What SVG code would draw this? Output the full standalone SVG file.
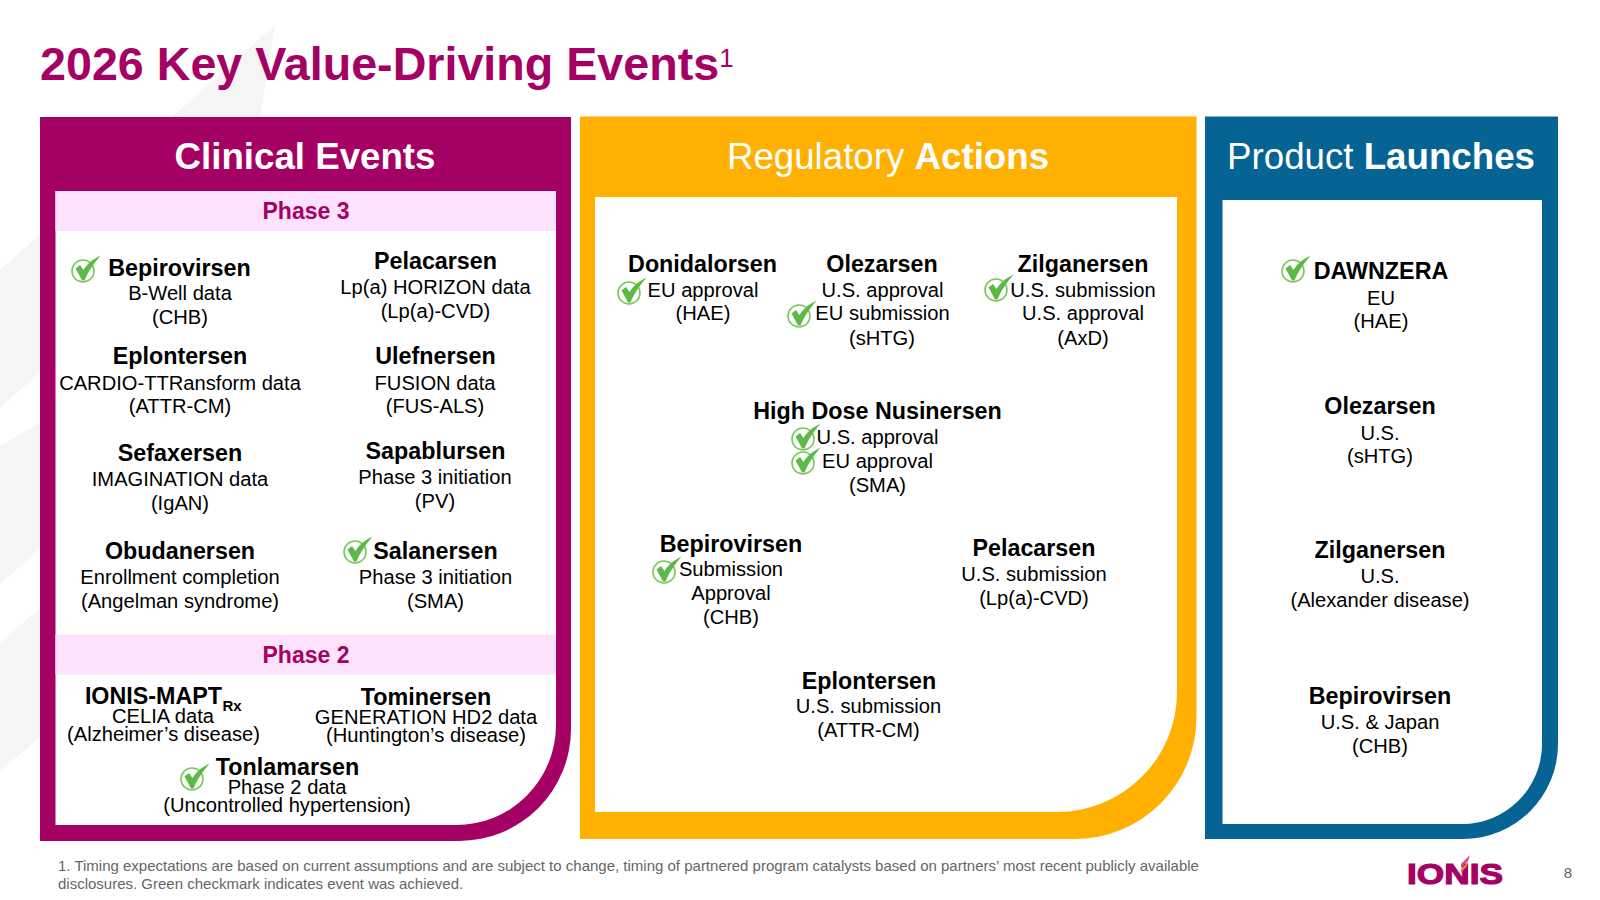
<svg xmlns="http://www.w3.org/2000/svg" width="1600" height="900" viewBox="0 0 1600 900">
<style>
text{font-family:"Liberation Sans",Arial,sans-serif;text-anchor:middle;fill:#000}
.n{font-size:23.3px;font-weight:700}
.b{font-size:20.15px}
.h{font-size:36.7px;fill:#fff}
.hb{font-weight:700}
.p{font-size:23px;font-weight:700;fill:#A50064}
.f{font-size:15px;fill:#666;text-anchor:start}
</style>
<defs>
<g id="chk">
<circle cx="0" cy="0" r="11" fill="none" stroke="#78C85A" stroke-width="1.6"/>
<path d="M-7.500,-2.500 L-3,-6 L0.500,-1 C4,-7 10,-12 17.500,-15.500 C11,-8 5,1 1.500,9.500 L-1,9.500 Z" fill="#5DB947"/>
</g>
</defs>
<rect width="1600" height="900" fill="#fff"/>
<g id="watermark" fill="#F5F5F5">
<polygon points="275,25 172,117 260,117"/>
<polygon points="0,270 40,235 40,373 0,407"/>
<polygon points="0,446 40,423 40,549 0,584"/>
<polygon points="0,643 40,608 40,737 0,771"/>
</g>
<g id="title">
<text x="40" y="80" style="text-anchor:start;font-size:46.65px;font-weight:700;fill:#A50064">2026 Key Value-Driving Events<tspan dy="-13" style="font-size:26px;font-weight:400">1</tspan></text>
</g>
<g id="clinical-panel">
<path d="M40,117 H571 V729 A112,112 0 0 1 459,841 H40 Z" fill="#A50064"/>
<path d="M55.500,191 H556 V725 A100,100 0 0 1 456,825 H55.500 Z" fill="#fff"/>
<rect x="55.500" y="191" width="500.500" height="40" fill="#FDE2FD"/>
<rect x="55.500" y="634.500" width="500.500" height="40" fill="#FDE2FD"/>
<text x="305" y="169" class="h hb">Clinical Events</text>
<text x="306" y="219" class="p">Phase 3</text>
<text x="306" y="663" class="p">Phase 2</text>
</g>
<g id="regulatory-panel">
<path d="M580,116.500 H1196.500 V717 A122,122 0 0 1 1074.500,839 H580 Z" fill="#FFB000"/>
<path d="M595,197 H1177 V692 A120,120 0 0 1 1057,812 H595 Z" fill="#fff"/>
<text x="888" y="169" class="h">Regulatory <tspan class="hb">Actions</tspan></text>
</g>
<g id="product-panel">
<path d="M1205,116.500 H1558 V744 A95,95 0 0 1 1463,839 H1205 Z" fill="#066494"/>
<path d="M1222.500,200 H1542 V744 A80,80 0 0 1 1462,824 H1222.500 Z" fill="#fff"/>
<text x="1381" y="169" class="h">Product <tspan class="hb">Launches</tspan></text>
</g>
<g id="n-bepirovirsen-c"><text x="179.500" y="275.500" class="n">Bepirovirsen</text><text x="180" y="300" class="b">B-Well data</text><text x="180" y="324" class="b">(CHB)</text><use href="#chk" x="83" y="271"/></g>
<g id="n-pelacarsen-c"><text x="435.500" y="269" class="n">Pelacarsen</text><text x="435.500" y="294" class="b">Lp(a) HORIZON data</text><text x="435.500" y="318" class="b">(Lp(a)-CVD)</text></g>
<g id="n-eplontersen-c"><text x="180" y="364" class="n">Eplontersen</text><text x="180" y="390" class="b">CARDIO-TTRansform data</text><text x="180" y="413" class="b">(ATTR-CM)</text></g>
<g id="n-ulefnersen"><text x="435.500" y="364" class="n">Ulefnersen</text><text x="435" y="390" class="b">FUSION data</text><text x="435" y="413" class="b">(FUS-ALS)</text></g>
<g id="n-sefaxersen"><text x="180" y="461" class="n">Sefaxersen</text><text x="180" y="486" class="b">IMAGINATION data</text><text x="180" y="510" class="b">(IgAN)</text></g>
<g id="n-sapablursen"><text x="435.500" y="459" class="n">Sapablursen</text><text x="435" y="484" class="b">Phase 3 initiation</text><text x="435" y="508" class="b">(PV)</text></g>
<g id="n-obudanersen"><text x="180" y="559" class="n">Obudanersen</text><text x="180" y="584" class="b">Enrollment completion</text><text x="180" y="608" class="b">(Angelman syndrome)</text></g>
<g id="n-salanersen"><text x="435.500" y="559" class="n">Salanersen</text><text x="435.500" y="584" class="b">Phase 3 initiation</text><text x="435.500" y="608" class="b">(SMA)</text><use href="#chk" x="355" y="552"/></g>
<g id="n-ionis-mapt"><text x="153.500" y="704" class="n">IONIS-MAPT</text><text x="232" y="711" style="font-size:15px;font-weight:700">Rx</text><text x="163" y="723" class="b">CELIA data</text><text x="163.500" y="741" class="b">(Alzheimer’s disease)</text></g>
<g id="n-tominersen"><text x="426" y="705" class="n">Tominersen</text><text x="426" y="724" class="b">GENERATION HD2 data</text><text x="426" y="742" class="b">(Huntington’s disease)</text></g>
<g id="n-tonlamarsen"><text x="287.500" y="775" class="n">Tonlamarsen</text><text x="287" y="794" class="b">Phase 2 data</text><text x="287" y="812" class="b">(Uncontrolled hypertension)</text><use href="#chk" x="192" y="779"/></g>
<g id="n-donidalorsen"><text x="702.500" y="272" class="n">Donidalorsen</text><text x="703" y="297" class="b">EU approval</text><text x="703" y="320" class="b">(HAE)</text><use href="#chk" x="629" y="293"/></g>
<g id="n-olezarsen-r"><text x="882" y="272" class="n">Olezarsen</text><text x="882.500" y="297" class="b">U.S. approval</text><text x="882.500" y="320" class="b">EU submission</text><text x="882" y="345" class="b">(sHTG)</text><use href="#chk" x="799" y="316"/></g>
<g id="n-zilganersen-r"><text x="1083" y="272" class="n">Zilganersen</text><text x="1083" y="297" class="b">U.S. submission</text><text x="1083" y="320" class="b">U.S. approval</text><text x="1083" y="345" class="b">(AxD)</text><use href="#chk" x="996" y="290"/></g>
<g id="n-nusinersen"><text x="877.500" y="419" class="n">High Dose Nusinersen</text><text x="877.500" y="444" class="b">U.S. approval</text><text x="877.500" y="468" class="b">EU approval</text><text x="877.500" y="492" class="b">(SMA)</text><use href="#chk" x="803" y="439"/><use href="#chk" x="803" y="463"/></g>
<g id="n-bepirovirsen-r"><text x="731" y="551.500" class="n">Bepirovirsen</text><text x="731" y="576" class="b">Submission</text><text x="731" y="600" class="b">Approval</text><text x="731" y="624" class="b">(CHB)</text><use href="#chk" x="664" y="572"/></g>
<g id="n-pelacarsen-r"><text x="1034" y="555.500" class="n">Pelacarsen</text><text x="1034" y="581" class="b">U.S. submission</text><text x="1034" y="605" class="b">(Lp(a)-CVD)</text></g>
<g id="n-eplontersen-r"><text x="869" y="688.500" class="n">Eplontersen</text><text x="868.500" y="713" class="b">U.S. submission</text><text x="868.500" y="737" class="b">(ATTR-CM)</text></g>
<g id="n-dawnzera"><text x="1381" y="279" class="n">DAWNZERA</text><text x="1381" y="305" class="b">EU</text><text x="1381" y="328" class="b">(HAE)</text><use href="#chk" x="1293" y="271"/></g>
<g id="n-olezarsen-p"><text x="1380" y="414" class="n">Olezarsen</text><text x="1380" y="440" class="b">U.S.</text><text x="1380" y="463" class="b">(sHTG)</text></g>
<g id="n-zilganersen-p"><text x="1380" y="558" class="n">Zilganersen</text><text x="1380" y="583" class="b">U.S.</text><text x="1380" y="607" class="b">(Alexander disease)</text></g>
<g id="n-bepirovirsen-p"><text x="1380" y="704" class="n">Bepirovirsen</text><text x="1380" y="729" class="b">U.S. &amp; Japan</text><text x="1380" y="753" class="b">(CHB)</text></g>
<g id="footnote"><text x="58" y="871" class="f">1. Timing expectations are based on current assumptions and are subject to change, timing of partnered program catalysts based on partners’ most recent publicly available</text><text x="58" y="889" class="f">disclosures. Green checkmark indicates event was achieved.</text></g>
<g id="logo">
<text x="1455" y="884" textLength="96" lengthAdjust="spacingAndGlyphs" style="font-size:30px;font-weight:700;fill:#A50064;stroke:#A50064;stroke-width:1.200">IONIS</text>
<polygon points="1461,864 1470,855 1468,861 1461,868" fill="#D8478C"/>
<polygon points="1461,869 1468,862 1467,866 1461,873" fill="#F58220"/>
</g>
<g id="page"><text x="1568" y="878" style="font-size:15px;fill:#666">8</text></g>
</svg>
